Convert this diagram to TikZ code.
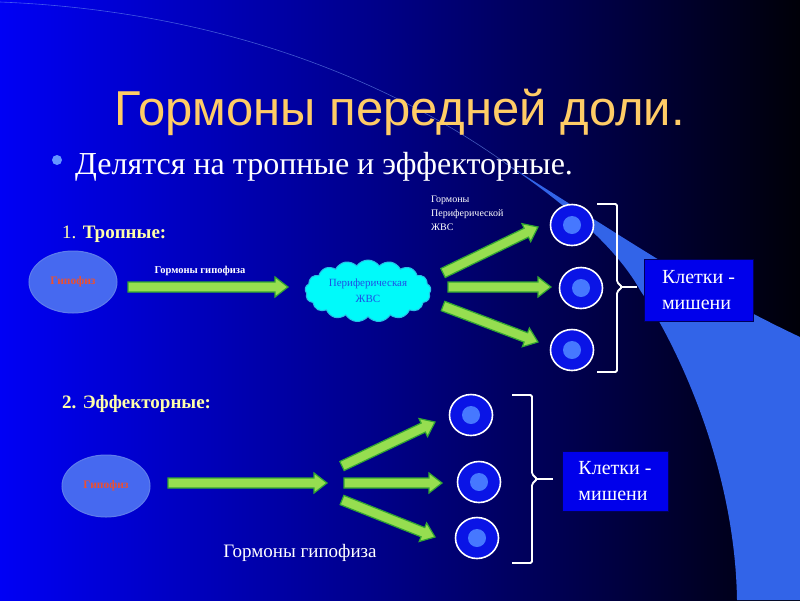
\documentclass[tikz,border=0pt]{standalone}
\usepackage{fontspec}
\setmainfont{Liberation Serif}
\newfontfamily\titlefont{Liberation Sans}
\usetikzlibrary{calc,shapes.geometric,shapes.symbols}
\definecolor{bgleft}{RGB}{0,0,245}
\definecolor{bgmid}{RGB}{0,0,130}
\definecolor{bgright}{RGB}{0,0,8}
\definecolor{band}{RGB}{50,100,232}
\definecolor{titlegold}{RGB}{255,204,102}
\definecolor{paleyellow}{RGB}{255,255,170}
\definecolor{hypfill}{RGB}{70,105,240}
\definecolor{hypdraw}{RGB}{95,125,235}
\definecolor{hyptext}{RGB}{235,80,50}
\definecolor{arrfill}{RGB}{150,222,80}
\definecolor{arrdraw}{RGB}{50,165,50}
\definecolor{cloudfill}{RGB}{0,250,250}
\definecolor{clouddraw}{RGB}{40,190,230}
\definecolor{cloudtext}{RGB}{30,80,230}
\definecolor{cellfill}{RGB}{10,20,230}
\definecolor{cellinner}{RGB}{70,120,255}
\definecolor{boxfill}{RGB}{0,0,235}
\definecolor{boxdraw}{RGB}{0,0,90}
\definecolor{bullet}{RGB}{100,150,255}
\tikzset{
  fatarrowstyle/.style={fill=arrfill,draw=arrdraw,line width=1.2pt,line join=miter},
  hypnode/.style={ellipse,fill=hypfill,draw=hypdraw,line width=1pt,minimum width=88pt,minimum height=62pt,inner sep=0pt,
    font=\bfseries\fontsize{11.5}{13}\selectfont,text=hyptext},
  cellnode/.style={ellipse,fill=cellfill,draw=white,line width=1.6pt,minimum width=43pt,minimum height=41pt,inner sep=0pt},
  cellcore/.style={circle,fill=cellinner,minimum size=18pt,inner sep=0pt},
  targetbox/.style={rectangle,fill=boxfill,draw=boxdraw,line width=1pt,text=white,align=left,
    font=\fontsize{20}{26}\selectfont,inner sep=0pt},
  bracketline/.style={draw=white,line width=1.8pt,rounded corners=1.5pt},
  smalllabel/.style={text=white,font=\fontsize{10}{14}\selectfont,align=left,inner sep=0pt},
  sectionlabel/.style={text=paleyellow,font=\fontsize{19}{22}\selectfont,inner sep=0pt,anchor=base west},
}
\newcommand\fatarrow[2]{%
  \path ($(#2)!13pt!(#1)$) coordinate (fac);
  \filldraw[fatarrowstyle] ($(#1)!5pt!90:(#2)$) -- ($(fac)!5pt!90:(#2)$) -- ($(fac)!10pt!90:(#2)$) -- (#2)
    -- ($(fac)!10pt!-90:(#2)$) -- ($(fac)!5pt!-90:(#2)$) -- ($(#1)!5pt!-90:(#2)$) -- cycle;}
\begin{document}
\begin{tikzpicture}[x=1pt,y=-1pt]
\useasboundingbox (0,0) rectangle (800,600);
% background
\shade[left color=bgleft,right color=bgright,middle color=bgmid] (0,0) rectangle (800,600);
\fill[band] (505,163) .. controls (620,235) and (700,290) .. (800,337) -- (800,600) -- (737,600)
  .. controls (735,470) and (680,350) .. (640,290) .. controls (615,245) and (560,200) .. (505,163) -- cycle;
\draw[band!70!white,opacity=0.6,line width=0.6pt] (0,2) .. controls (250,12) and (420,100) .. (515,170);
% title
\node[anchor=base,text=titlegold,font=\titlefont\fontsize{49}{56}\selectfont,inner sep=0pt] (title) at (400,125) {Гормоны передней доли.};
% subtitle
\fill[bullet] (57,160) circle (5pt);
\node[anchor=base west,text=white,font=\fontsize{32}{36}\selectfont,inner sep=0pt] (sub) at (75,174) {Делятся на тропные и эффекторные.};
% section 1
\node[sectionlabel] (s1) at (62,238) {1. \textbf{Тропные:}};
\node[hypnode] (hyp1) at (73,282) {Гипофиз};
\node[anchor=base,text=white,font=\bfseries\fontsize{10.5}{12}\selectfont,inner sep=0pt] (lab1) at (200,273) {Гормоны гипофиза};
\node[cloud,cloud puffs=17,cloud puff arc=110,aspect=2.3,fill=cloudfill,draw=clouddraw,line width=1pt,minimum width=126pt,minimum height=62pt,inner sep=0pt,
  text=cloudtext,font=\fontsize{11}{16}\selectfont,align=center] (cloud) at (368,291) {Периферическая\\ЖВС};
\node[smalllabel,anchor=north west] (lab2) at (431,196) {Гормоны\\Периферической\\ЖВС};
\coordinate (a1s) at (128,287);
\coordinate (a1e) at (288,287);
\fatarrow{a1s}{a1e}
\node[cellnode] (c1) at (572,225) {};
\node[cellnode] (c2) at (581,288) {};
\node[cellnode] (c3) at (572,350) {};
\foreach \c in {c1,c2,c3} \node[cellcore] at (\c) {};
\coordinate (b1s) at (443,273); \coordinate (b1e) at (538,227);
\coordinate (b2s) at (448,287); \coordinate (b2e) at (551,287);
\coordinate (b3s) at (443,306); \coordinate (b3e) at (538,342);
\fatarrow{b1s}{b1e}
\fatarrow{b2s}{b2e}
\fatarrow{b3s}{b3e}
\draw[bracketline] (597,204) -- (617,204) -- (617,282) -- (622,287) -- (617,292) -- (617,372) -- (597,372);
\coordinate (br1) at (637,287);
\draw[draw=white,line width=1.8pt] (622,287) -- (br1);
\node[targetbox,minimum width=109pt,minimum height=62pt] (box1) at (698.5,290.5) {Клетки -\\мишени};
% section 2
\node[sectionlabel] (s2) at (62,408) {\textbf{2. Эффекторные:}};
\node[hypnode] (hyp2) at (106,486) {Гипофиз};
\coordinate (d1s) at (168,483); \coordinate (d1e) at (327,483);
\fatarrow{d1s}{d1e}
\node[cellnode] (e1) at (471,415) {};
\node[cellnode] (e2) at (479,482) {};
\node[cellnode] (e3) at (477,538) {};
\foreach \c in {e1,e2,e3} \node[cellcore] at (\c) {};
\coordinate (f1s) at (342,466); \coordinate (f1e) at (435,422);
\coordinate (f2s) at (344,483); \coordinate (f2e) at (442,483);
\coordinate (f3s) at (342,500); \coordinate (f3e) at (435,537);
\fatarrow{f1s}{f1e}
\fatarrow{f2s}{f2e}
\fatarrow{f3s}{f3e}
\draw[bracketline] (512,395) -- (532,395) -- (532,474) -- (537,479) -- (532,484) -- (532,563) -- (512,563);
\coordinate (br2) at (553,479);
\draw[draw=white,line width=1.8pt] (537,479) -- (br2);
\node[targetbox,minimum width=106pt,minimum height=60pt] (box2) at (615,481) {Клетки -\\мишени};
\node[anchor=base,text=white,font=\fontsize{19}{22}\selectfont,inner sep=0pt] (lab3) at (300,557) {Гормоны гипофиза};
\end{tikzpicture}
\end{document}
